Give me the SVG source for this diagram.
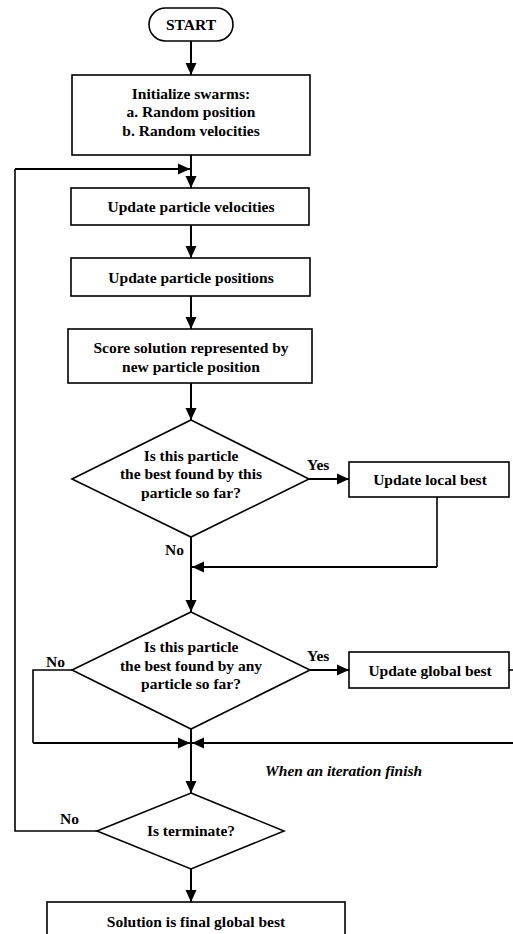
<svg xmlns="http://www.w3.org/2000/svg" width="513" height="934" viewBox="0 0 513 934">
<defs>
<marker id="ah" markerUnits="userSpaceOnUse" markerWidth="14" markerHeight="14" viewBox="0 0 14 14" refX="13" refY="7" orient="auto">
<path d="M1,1.5 L13,7 L1,12.5 Z" fill="#000"/>
</marker>
</defs>
<style>
.box{fill:#fff;stroke:#000;stroke-width:1.6}
.t{font-family:"Liberation Serif","Times New Roman",serif;font-weight:bold;font-size:15.5px;text-anchor:middle;fill:#000}
.lbl{font-family:"Liberation Serif","Times New Roman",serif;font-weight:bold;font-size:15.5px;fill:#000}
.it{font-family:"Liberation Serif","Times New Roman",serif;font-weight:bold;font-style:italic;font-size:15.5px;fill:#000}
.c{fill:none;stroke:#000;stroke-width:2}
.c1{fill:none;stroke:#000;stroke-width:1.6}
</style>
<rect width="513" height="934" fill="#fff"/>
<g id="connectors">
<line class="c" x1="191" y1="41" x2="191" y2="75" marker-end="url(#ah)"/>
<line class="c" x1="191" y1="155" x2="191" y2="188" marker-end="url(#ah)"/>
<line class="c" x1="191" y1="225" x2="191" y2="258" marker-end="url(#ah)"/>
<line class="c" x1="191" y1="296" x2="191" y2="329" marker-end="url(#ah)"/>
<line class="c" x1="191" y1="383" x2="191" y2="420" marker-end="url(#ah)"/>
<line class="c" x1="309" y1="479" x2="349" y2="479" marker-end="url(#ah)"/>
<polyline class="c1" points="437,497 437,567"/>
<line class="c" x1="437" y1="567" x2="192" y2="567" marker-end="url(#ah)"/>
<line class="c" x1="191" y1="537" x2="191" y2="612" marker-end="url(#ah)"/>
<line class="c" x1="310" y1="670" x2="349" y2="670" marker-end="url(#ah)"/>
<line class="c1" x1="509" y1="670" x2="513" y2="670"/>
<polyline class="c1" points="72,670 33,670 33,743"/>
<line class="c" x1="33" y1="743" x2="190" y2="743" marker-end="url(#ah)"/>
<line class="c" x1="513" y1="743" x2="192" y2="743" marker-end="url(#ah)"/>
<line class="c" x1="191" y1="729" x2="191" y2="793" marker-end="url(#ah)"/>
<polyline class="c1" points="97,831 15,831 15,169"/>
<line class="c" x1="15" y1="169" x2="190" y2="169" marker-end="url(#ah)"/>
<line class="c" x1="191" y1="869" x2="191" y2="902" marker-end="url(#ah)"/>
</g>
<g id="start">
<rect class="box" x="149" y="8" width="84" height="33" rx="16.5" ry="16.5"/>
<text class="t" x="191" y="30">START</text>
</g>
<g id="init">
<rect class="box" x="72" y="75" width="238" height="80"/>
<text class="t" x="191" y="99">Initialize swarms:</text>
<text class="t" x="191" y="117">a. Random position</text>
<text class="t" x="191" y="136">b. Random velocities</text>
</g>
<g id="velocities">
<rect class="box" x="71" y="188" width="238" height="37"/>
<text class="t" x="191" y="212">Update particle velocities</text>
</g>
<g id="positions">
<rect class="box" x="71" y="258" width="239" height="38"/>
<text class="t" x="191" y="283">Update particle positions</text>
</g>
<g id="score">
<rect class="box" x="68" y="329" width="244" height="54"/>
<text class="t" x="191" y="353">Score solution represented by</text>
<text class="t" x="191" y="372">new particle position</text>
</g>
<g id="decision-local">
<polygon class="box" points="191,420 309,479 191,537 72,479"/>
<text class="t" x="191" y="461">Is this particle</text>
<text class="t" x="191" y="479">the best found by this</text>
<text class="t" x="191" y="498">particle so far?</text>
<text class="lbl" x="307" y="470">Yes</text>
<text class="lbl" x="165" y="555">No</text>
</g>
<g id="local-best">
<rect class="box" x="349" y="462" width="160" height="35"/>
<text class="t" x="430" y="485">Update local best</text>
</g>
<g id="decision-global">
<polygon class="box" points="191,612 310,670 191,729 72,670"/>
<text class="t" x="191" y="652">Is this particle</text>
<text class="t" x="191" y="671">the best found by any</text>
<text class="t" x="191" y="689">particle so far?</text>
<text class="lbl" x="307" y="661">Yes</text>
<text class="lbl" x="46" y="667">No</text>
</g>
<g id="global-best">
<rect class="box" x="349" y="652" width="160" height="36"/>
<text class="t" x="430" y="676">Update global best</text>
</g>
<g id="iteration-label">
<text class="it" x="265" y="776">When an iteration finish</text>
</g>
<g id="terminate">
<polygon class="box" points="191,793 284,831 191,869 97,831"/>
<text class="t" x="191" y="836">Is terminate?</text>
<text class="lbl" x="60" y="824">No</text>
</g>
<g id="final">
<rect class="box" x="47" y="902" width="298" height="40"/>
<text class="t" x="196" y="927">Solution is final global best</text>
</g>
</svg>
